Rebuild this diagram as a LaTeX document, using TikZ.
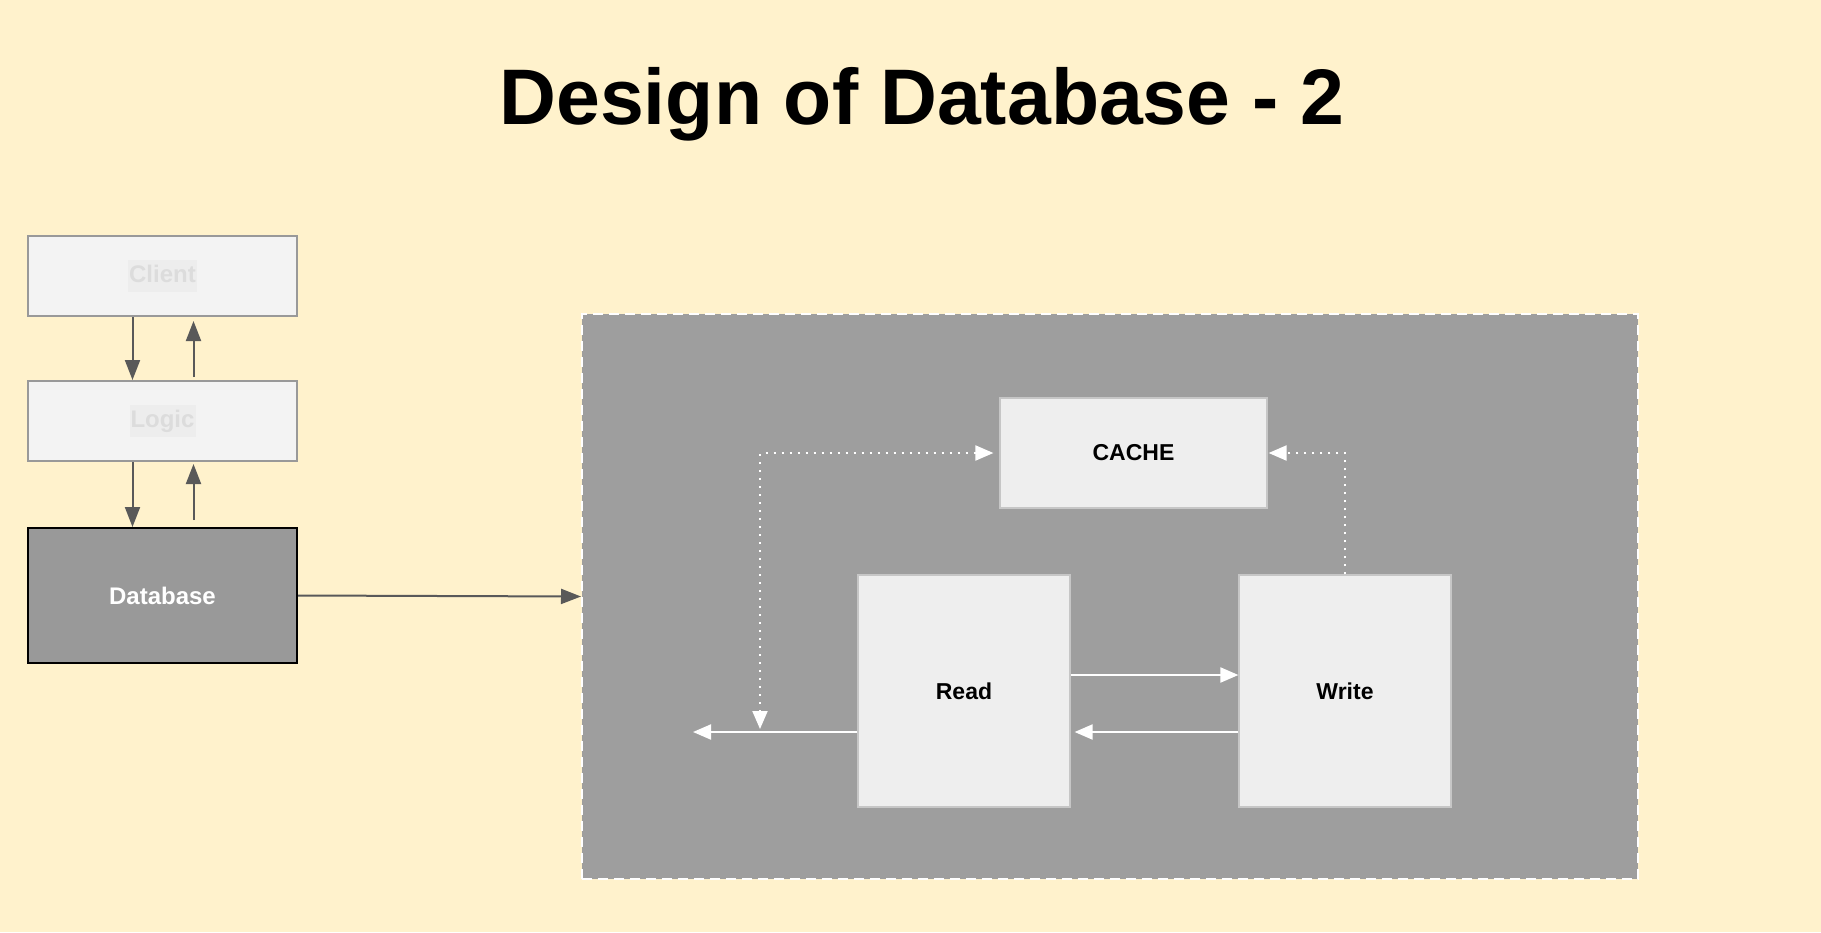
\documentclass[tikz,border=0pt]{standalone}
\usepackage{fontspec}
\setmainfont{Liberation Sans}
\usetikzlibrary{arrows.meta}

\definecolor{bgyellow}{HTML}{FFF2CC}
\definecolor{panelgray}{HTML}{9E9E9E}
\definecolor{boxgray}{HTML}{EEEEEE}
\definecolor{fadegray}{HTML}{F3F3F3}
\definecolor{fadehl}{HTML}{EDEDED}
\definecolor{fadetext}{HTML}{DCDCDC}
\definecolor{arrowgray}{HTML}{595959}
\definecolor{dbgray}{HTML}{999999}

\tikzset{
  fadebox/.style={draw=dbgray, fill=fadegray, line width=1pt, minimum width=134.5pt, minimum height=40pt,
    font=\bfseries\fontsize{12}{15}\selectfont, text=fadetext},
  dbbox/.style={draw=black, fill=dbgray, line width=1pt, minimum width=134.5pt, minimum height=67.5pt,
    font=\bfseries\fontsize{12}{15}\selectfont, text=white},
  innerbox/.style={draw=gray!45, fill=boxgray, line width=0.6pt, font=\bfseries\fontsize{11.5}{14}\selectfont},
  grayarrow/.style={draw=arrowgray, line width=1pt, -{Triangle[length=10pt, width=7.5pt]}},
  whitearrow/.style={draw=white, line width=1pt, -{Triangle[length=9pt, width=7.5pt]}},
  dotline/.style={draw=white, line width=1pt, dash pattern=on 1pt off 3pt},
}

\newcommand{\fadelabel}[1]{{\setlength{\fboxsep}{0.5pt}\colorbox{fadehl}{\strut #1}}}

\begin{document}
\begin{tikzpicture}[x=0.5pt, y=-0.5pt]
  \fill[bgyellow] (0,0) rectangle (1821,932);
  \useasboundingbox (0,0) rectangle (1821,932);

  \node (title) at (922,104) {\bfseries\fontsize{39.4}{47}\selectfont Design of Database - 2};

  % left stack
  \node[fadebox] (client) at (162.5,276) {\fadelabel{Client}};
  \node[fadebox] (logic) at (162.5,421) {\fadelabel{Logic}};
  \node[dbbox] (db) at (162.5,595.5) {Database};

  \draw[grayarrow] ([xshift=-15pt]client.south) -- ([xshift=-15pt]logic.north);
  \draw[grayarrow] ([xshift=15.5pt, yshift=1.5pt]logic.north) -- ([xshift=15.5pt, yshift=-2pt]client.south);
  \draw[grayarrow] ([xshift=-15pt]logic.south) -- ([xshift=-15pt]db.north);
  \draw[grayarrow] ([xshift=15.5pt, yshift=3.5pt]db.north) -- ([xshift=15.5pt, yshift=-1pt]logic.south);

  % database detail
  \node[draw=white, fill=panelgray, line width=1pt, dash pattern=on 5pt off 3pt,
        minimum width=528pt, minimum height=282.5pt] (panel) at (1110,596.5) {};
  \draw[grayarrow] (db.east) -- (panel.west);

  \node[innerbox, minimum width=133.5pt, minimum height=55pt] (cache) at (1133.5,453) {CACHE};
  \node[innerbox, minimum width=106pt, minimum height=116pt] (read) at (964,691) {Read};
  \node[innerbox, minimum width=106pt, minimum height=116pt] (write) at (1345,691) {Write};

  \coordinate (out) at (693,732);
  \coordinate (tap) at (760,729);

  \draw[whitearrow] ([yshift=8pt]read.east) -- ([yshift=8pt]write.west);
  \draw[whitearrow] ([yshift=-20.5pt]write.west) -- ([yshift=-20.5pt, xshift=2pt]read.east);
  \draw[whitearrow] ([yshift=-20.5pt]read.west) -- (out);
  \draw[dotline, {Triangle[length=9pt, width=7.5pt]}-{Triangle[length=9pt, width=7.5pt]}, shorten >=3pt] (tap) |- (cache.west);
  \draw[dotline, -{Triangle[length=9pt, width=7.5pt]}, shorten >=0.5pt] (write.north) |- (cache.east);
\end{tikzpicture}
\end{document}
